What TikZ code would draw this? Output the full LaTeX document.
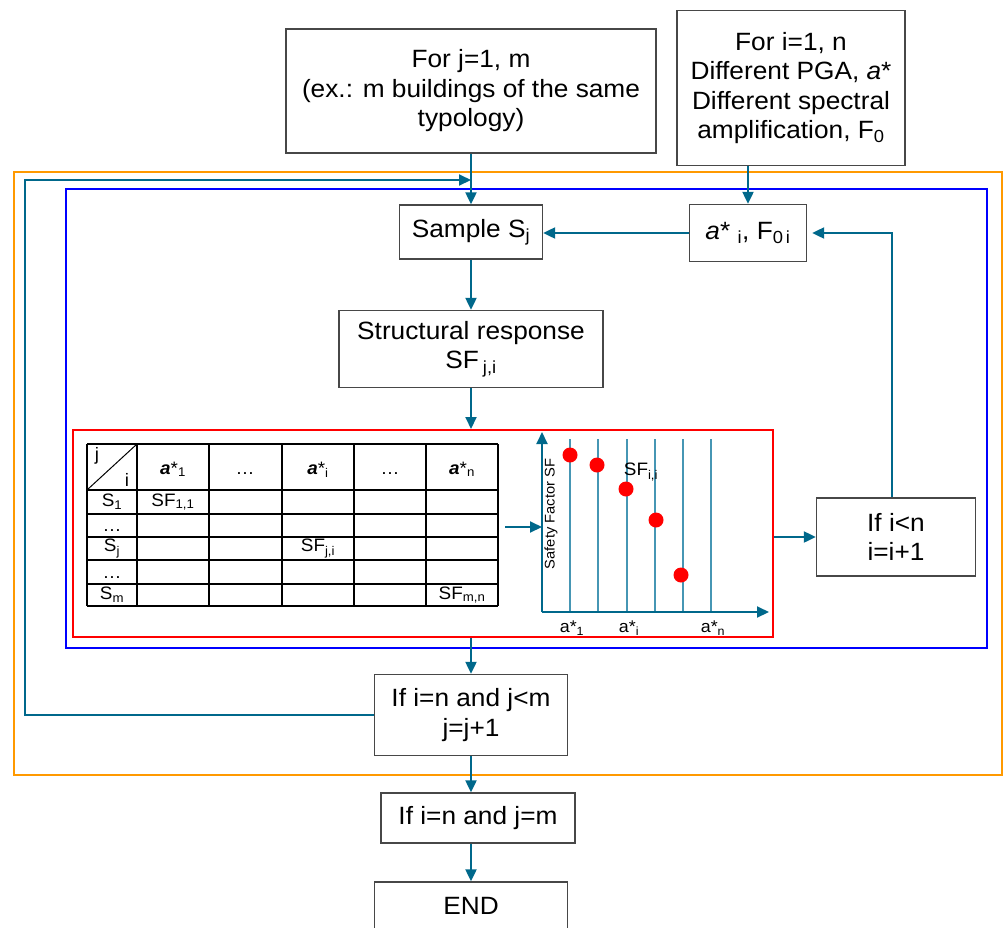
\documentclass[tikz,border=0pt]{standalone}
\usepackage{fontspec}
\setmainfont[FakeStretch=1.05]{Liberation Sans}
\usepackage{tikz}
\usetikzlibrary{positioning}
\usetikzlibrary{arrows.meta}
\definecolor{flowteal}{RGB}{0,104,139}
\definecolor{gridteal}{RGB}{70,150,180}
\definecolor{loopgold}{RGB}{255,153,0}

\begin{document}
\begin{tikzpicture}[
	x=1pt,y=-1pt,
	box/.style={draw=black!72,line width=1.3pt,fill=white,align=center,inner sep=0,font=\fontsize{25}{29.5}\selectfont},
	flow/.style={draw=flowteal,line width=2pt,-{Triangle[length=12pt,width=11pt]}},
	cell/.style={font=\fontsize{18}{21}\selectfont},
	tick/.style={font=\fontsize{17}{20}\selectfont}
]
	\useasboundingbox (0,0) rectangle (1004,927);
	\clip (0,0) rectangle (1004,927);

	% loops over j (orange) and i (blue)
	\draw[loopgold,line width=2.5pt] (14,172) rectangle (1002,775);
	\draw[blue,line width=2.5pt] (66,189) rectangle (987,648);
	\node[draw=red,line width=2pt,minimum width=700,minimum height=207,inner sep=0] (res) at (423,533.5) {};

	% flow chart boxes
	\node[box,minimum width=370,minimum height=124] (forj) at (471,91)
		{For j=1, m\\(ex.: m buildings of the same\\typology)};
	\node[box,minimum width=228,minimum height=155] (fori) at (791,88)
		{For i=1, n\\Different PGA, \textit{a}*\\Different spectral\\amplification, F\textsubscript{0}};
	\node[box,minimum width=143,minimum height=54] (samp) at (471,232) {Sample S\textsubscript{j}};
	\node[box,minimum width=117,minimum height=57] (ai) at (748,233)
		{\textit{a}* \textsubscript{i}, F\textsubscript{0\,i}};
	\node[box,minimum width=264,minimum height=77] (sresp) at (471,349) {Structural response\\SF\,\textsubscript{j,i}};
	\node[box,minimum width=159,minimum height=78] (ifi) at (896,537) {If i<n\\i=i+1};
	\node[box,minimum width=193,minimum height=81] (ifj) at (471,715) {If i=n and j<m\\j=j+1};
	\node[box,minimum width=194,minimum height=50] (ifm) at (478,818) {If i=n and j=m};
	\node[box,minimum width=193,minimum height=48] (endn) at (471,906) {END};
	\coordinate (back) at (25,180);

	% connectors
	\draw[flow] (forj) -- (samp);
	\draw[flow] (ai.north |- fori.south) -- (ai);
	\draw[flow] (ai) -- (ai -| samp.east);
	\draw[flow] (samp) -- (sresp);
	\draw[flow] (sresp) -- (sresp |- res.north);
	\draw[flow] (res.south -| ifj) -- (ifj);
	\draw[flow] (res.east |- ifi) -- (ifi);
	\draw[flow] ([xshift=-4]ifi.north) |- ([xshift=5]ai.east);
	\draw[flow] (ifj.west) -| (back) -- (back -| samp);
	\draw[flow] (ifj) -- (ifj |- ifm.north);
	\draw[flow] (ifm.south -| ifj) -- (endn);

	% table of safety factors
	\foreach \x in {87,137,209,282,354,426,498}
		\draw[line width=1.2pt] (\x,444) -- (\x,606);
	\foreach \y in {444,490,514,537,560,584,606}
		\draw[line width=1.2pt] (87,\y) -- (498,\y);
	\draw[line width=1pt] (87,490) -- (137,444);
	\node[cell] (hj) at (97,456) {j};
	\node[cell] (hi) at (127,480) {i};
	\node[cell,anchor=base] (h1) at (173,474) {\textbf{\textit{a}}*\textsubscript{1}};
	\node[cell,anchor=base] (h2) at (245,474) {…};
	\node[cell,anchor=base] (h3) at (318,474) {\textbf{\textit{a}}*\textsubscript{i}};
	\node[cell,anchor=base] (h4) at (390,474) {…};
	\node[cell,anchor=base] (h5) at (462,474) {\textbf{\textit{a}}*\textsubscript{n}};
	\node[cell] (r1) at (112,502) {S\textsubscript{1}};
	\node[cell,anchor=base] (r2) at (112,531) {…};
	\node[cell] (r3) at (112,548.5) {S\textsubscript{j}};
	\node[cell,anchor=base] (r4) at (112,578) {…};
	\node[cell] (r5) at (112,595) {S\textsubscript{m}};
	\node[cell] (sf11) at (173,502) {SF\textsubscript{1,1}};
	\node[cell] (sfji) at (318,548.5) {SF\textsubscript{j,i}};
	\node[cell] (sfmn) at (462,595) {SF\textsubscript{m,n}};
	\coordinate (tabE) at (505,527);

	% safety factor plot
	\coordinate (org) at (542,612);
	\foreach \x in {570,598,627,655,683,711}
		\draw[gridteal,line width=1.3pt] (\x,439) -- (\x,612);
	\draw[flow] (org) -- (542,432);
	\draw[flow] (org) -- (769,612);
	\draw[flow] (tabE) -- (tabE -| org);
	\foreach \x/\y in {570/455,597/465,626/489,656/520,681/575}
		\fill[red] (\x,\y) circle[radius=7.5pt];
	\node[font=\fontsize{14}{16}\selectfont,rotate=90] (ylab) at (551,514) {Safety Factor SF};
	\node[font=\fontsize{18}{20}\selectfont] (sfpt) at (641,472) {SF\textsubscript{i,i}};
	\node[tick] (t1) at (572,628) {a*\textsubscript{1}};
	\node[tick] (ti) at (629,628) {a*\textsubscript{i}};
	\node[tick] (tn) at (713,628) {a*\textsubscript{n}};
\end{tikzpicture}
\end{document}
